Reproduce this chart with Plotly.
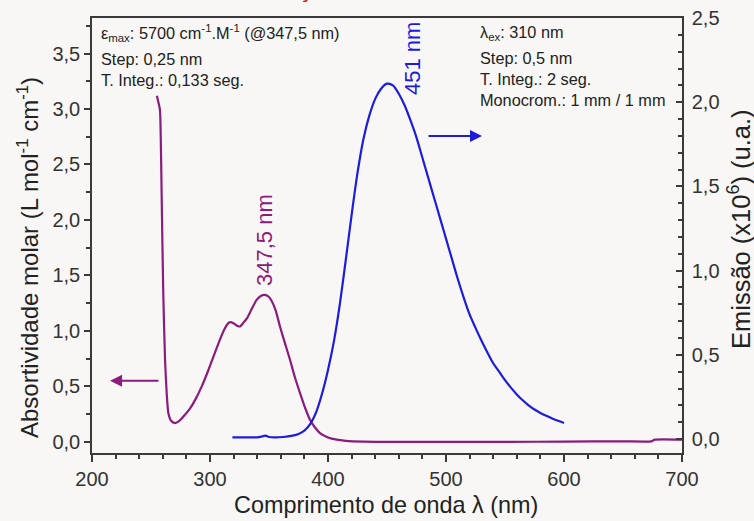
import plotly.graph_objects as go

# Absorption spectrum (purple), left axis
abs_wl = [255, 256.5, 257.6, 258.5, 259.0, 260.4, 261.9, 263.3, 264.7, 267, 270.3, 274, 278,
          283, 288, 293, 298, 303, 308, 312, 315.5, 317.5, 319.8, 322.5, 325.4, 328,
          331.1, 335, 339.5, 343, 346.6, 349.5, 352.3, 355.5, 359.3, 363.5, 367.8, 372,
          376.3, 380.5, 384.7, 389, 393.2, 400, 407.3, 415, 430, 450, 500, 550, 600, 650,
          674, 677, 700]
abs_val = [3.12, 3.05, 2.99, 2.6, 2.24, 1.34, 0.74, 0.44, 0.26, 0.19, 0.17, 0.19, 0.235,
           0.30, 0.39, 0.50, 0.63, 0.77, 0.91, 1.01, 1.07, 1.08, 1.07, 1.05, 1.04, 1.07,
           1.11, 1.19, 1.28, 1.315, 1.325, 1.31, 1.27, 1.19, 1.04, 0.89, 0.74, 0.58,
           0.44, 0.31, 0.20, 0.13, 0.08, 0.04, 0.02, 0.01, 0.003, 0.0, 0.0, 0.0, 0.003, 0.005,
           0.005, 0.02, 0.02]

# Emission spectrum (blue), right axis (x10^6)
em_wl = [319, 330, 340, 344, 347, 350, 355, 362, 370, 375, 380, 385, 390, 395, 400, 405, 410,
         415, 420, 425, 430, 435, 440, 445, 450, 455, 460, 465, 470, 475, 480, 485, 490, 495,
         500, 505, 510, 515, 520, 525, 530, 535, 540, 545, 550, 555, 560, 565, 570, 575, 580,
         585, 590, 595, 600]
em_val = [0.01, 0.01, 0.01, 0.015, 0.02, 0.012, 0.01, 0.012, 0.02, 0.03, 0.05, 0.09, 0.16,
          0.27, 0.41, 0.58, 0.80, 1.06, 1.33, 1.58, 1.78, 1.92, 2.02, 2.08, 2.11, 2.10, 2.05,
          1.98, 1.89, 1.79, 1.67, 1.55, 1.43, 1.31, 1.19, 1.07, 0.95, 0.84, 0.74, 0.66, 0.585,
          0.515, 0.45, 0.40, 0.35, 0.305, 0.265, 0.23, 0.20, 0.175, 0.155, 0.138, 0.122, 0.108,
          0.095]

PURPLE = "#8a1c7c"
BLUE = "#1c1cdc"
AX = "#3a3a3a"
BG = "#f8f7f5"
FONT = "Liberation Sans, Arial, sans-serif"

fig = go.Figure()
fig.add_trace(go.Scatter(x=abs_wl, y=abs_val, mode="lines",
                         line=dict(color=PURPLE, width=2.2, shape="spline", smoothing=0.6),
                         yaxis="y", showlegend=False, hoverinfo="skip"))
fig.add_trace(go.Scatter(x=em_wl, y=em_val, mode="lines",
                         line=dict(color=BLUE, width=2.2, shape="spline", smoothing=0.8),
                         yaxis="y2", showlegend=False, hoverinfo="skip"))

L, R, T, B = 92, 72, 18, 68
W, H = 754, 521
pw, ph = W - L - R, H - T - B


def px(x):
    return (x - L) / pw


def py(y):
    return (H - B - y) / ph


ann = []
tfont = dict(family=FONT, size=16.3, color="#222222")
left_lines = [("ε<sub>max</sub>: 5700 cm<sup>-1</sup>.M<sup>-1</sup> (@347,5 nm)", 33),
              ("Step: 0,25 nm", 59), ("T. Integ.: 0,133 seg.", 80)]
for t, yy in left_lines:
    ann.append(dict(text=t, xref="paper", yref="paper", x=px(99), y=py(yy), xanchor="left", yanchor="middle",
                    showarrow=False, font=tfont))
right_lines = [("λ<sub>ex</sub>: 310 nm", 33), ("Step: 0,5 nm", 58), ("T. Integ.: 2 seg.", 79),
               ("Monocrom.: 1 mm / 1 mm", 100)]
for t, yy in right_lines:
    ann.append(dict(text=t, xref="paper", yref="paper", x=px(478), y=py(yy), xanchor="left", yanchor="middle",
                    showarrow=False, font=tfont))

C = dict(xanchor="center", yanchor="middle", showarrow=False, xref="paper", yref="paper")
ann.append(dict(text="347,5 nm", x=px(264), y=py(240), textangle=-90,
                font=dict(family=FONT, size=22, color=PURPLE), **C))
ann.append(dict(text="451 nm", x=px(412), y=py(59), textangle=-90,
                font=dict(family=FONT, size=22, color=BLUE), **C))

# axis titles
ann.append(dict(text="Comprimento de onda λ (nm)", x=px(386), y=py(505),
                font=dict(family=FONT, size=23.4, color="#222222"), **C))
ann.append(dict(text="Absortividade molar (L mol<sup>-1</sup> cm<sup>-1</sup>)",
                x=px(28), y=py(258), textangle=-90,
                font=dict(family=FONT, size=24, color="#222222"), **C))
ann.append(dict(text="Emissão (x10<sup>6</sup>) (u.a.)",
                x=px(739), y=py(229), textangle=-90,
                font=dict(family=FONT, size=25.5, color="#222222"), **C))

# arrows indicating axes
ann.append(dict(x=215.3, y=0.55, xref="x", yref="y", ax=257.6, ay=0.55, axref="x", ayref="y",
                showarrow=True, arrowhead=2, arrowsize=1.2, arrowwidth=2, arrowcolor=PURPLE, text=""))
ann.append(dict(x=530.5, y=1.80, xref="x", yref="y2", ax=483.9, ay=1.80, axref="x", ayref="y2",
                showarrow=True, arrowhead=2, arrowsize=1.2, arrowwidth=2, arrowcolor=BLUE, text=""))

# cropped red title remnant at top
ann.append(dict(text="<b>ç</b>", x=px(305), y=py(-10),
                font=dict(family=FONT, size=22, color="#d01010"), **C))

fig.update_layout(
    width=W, height=H,
    margin=dict(l=L, r=R, t=T, b=B, pad=0, autoexpand=False),
    paper_bgcolor=BG, plot_bgcolor=BG,
    separators=", ",
    font=dict(family=FONT, color="#333333"),
    showlegend=False,
    annotations=ann,
    xaxis=dict(range=[200, 700], tick0=200, dtick=100, ticks="outside", ticklen=7, tickwidth=1.5,
               tickcolor=AX, showline=True, linecolor=AX, linewidth=1.5, mirror=True, showgrid=False,
               zeroline=False, automargin=False, tickfont=dict(size=20, family=FONT, color="#333333"),
               minor=dict(dtick=20, ticks="outside", ticklen=4, tickcolor=AX, tickwidth=1.5)),
    yaxis=dict(range=[-0.1, 3.82], tick0=0, dtick=0.5, tickformat=".1f", ticks="outside", ticklen=6,
               tickwidth=1.5, tickcolor=AX, showline=True, linecolor=AX, linewidth=1.5, showgrid=False,
               zeroline=False, automargin=False, tickfont=dict(size=20, family=FONT, color="#333333"),
               minor=dict(dtick=0.25, ticks="outside", ticklen=4, tickcolor=AX, tickwidth=1.5)),
    yaxis2=dict(range=[-0.083, 2.5], tick0=0, dtick=0.5, tickformat=".1f", ticks="inside", ticklen=6,
                tickwidth=1.5, tickcolor=AX, overlaying="y", side="right", showline=True, linecolor=AX,
                linewidth=1.5, showgrid=False, zeroline=False, automargin=False, ticklabelstandoff=4,
                tickfont=dict(size=20, family=FONT, color="#333333"),
                minor=dict(dtick=0.1, ticks="inside", ticklen=4, tickcolor=AX, tickwidth=1.5)),
)

fig.write_html("out.html")
